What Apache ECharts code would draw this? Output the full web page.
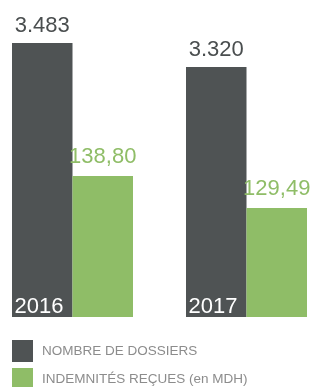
<!DOCTYPE html>
<html><head><meta charset="utf-8">
<script src="https://cdn.jsdelivr.net/npm/echarts@6/dist/echarts.min.js"></script>
<style>html,body{margin:0;padding:0;background:#fff}#c{width:310px;height:387px}</style>
</head><body><div id="c"></div>
<script>
const categories = ['2016', '2017'];
const dossiers = [3483, 3320];
const indemnites = [138.80, 129.49];
const seriesNames = ['NOMBRE DE DOSSIERS', 'INDEMNITÉS REÇUES (en MDH)'];

const DARK = '#4f5354', GREEN = '#8fbd67';
const FONT = 'Liberation Sans';
const fmtDossiers = v => v.toLocaleString('de-DE');
const fmtMdh = v => v.toFixed(2).replace('.', ',');

const legendCommon = {orient: 'vertical', left: 12, padding: 0, itemWidth: 21, itemHeight: 22, icon: 'rect',
  textStyle: {color: '#8c8c8c', fontSize: 13.5, fontFamily: FONT, padding: [0, 0, 0, 4]}, itemGap: 8};

const chart = echarts.init(document.getElementById('c'), null, {renderer: 'canvas'});
chart.setOption({
  animation: false,
  textStyle: {fontFamily: FONT},
  grid: {left: -14.5, right: -23.5, top: 0, bottom: 70, containLabel: false, outerBoundsMode: 'none'},
  xAxis: {
    type: 'category', data: categories,
    axisLine: {show: false}, axisTick: {show: false}, splitLine: {show: false},
    axisLabel: {inside: true, margin: -1, color: '#ffffff', fontSize: 22, fontFamily: FONT,
      align: 'right', padding: [0, 9, 0, 0], verticalAlign: 'bottom'},
    z: 10
  },
  yAxis: [
    {type: 'value', min: 1620, max: 3775, show: false},
    {type: 'value', min: 97.8, max: 190, show: false}
  ],
  legend: [
    Object.assign({top: 340, data: [seriesNames[0]]}, legendCommon),
    Object.assign({top: 368, data: [seriesNames[1]]}, legendCommon)
  ],
  series: [
    {name: seriesNames[0], type: 'bar', yAxisIndex: 0, data: dossiers, barWidth: 60.5, barGap: '0%',
      itemStyle: {color: DARK}, clip: true,
      label: {show: true, position: 'top', distance: 6, color: '#4a4e4f', fontSize: 22, fontFamily: FONT,
        formatter: p => fmtDossiers(p.value)}},
    {name: seriesNames[1], type: 'bar', yAxisIndex: 1, data: indemnites, barWidth: 60.5, barGap: '0%',
      itemStyle: {color: GREEN}, clip: true,
      label: {show: true, position: 'top', distance: 8, color: GREEN, fontSize: 22, fontFamily: FONT,
        formatter: p => fmtMdh(p.value)}}
  ]
});
</script></body></html>
